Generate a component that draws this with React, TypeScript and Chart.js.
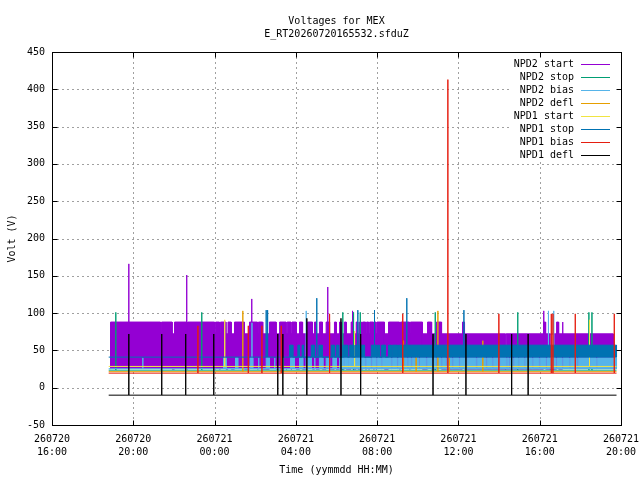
import React, { useEffect, useRef } from "react";
import { Chart, registerables } from "chart.js";

Chart.register(...registerables);

// time axis: hours counted from 260720 00:00
const xTickHours = [16, 20, 24, 28, 32, 36, 40, 44];
const xTickLabels = [
  ["260720", "16:00"],
  ["260720", "20:00"],
  ["260721", "00:00"],
  ["260721", "04:00"],
  ["260721", "08:00"],
  ["260721", "12:00"],
  ["260721", "16:00"],
  ["260721", "20:00"],
];
const yTickValues = [-50, 0, 50, 100, 150, 200, 250, 300, 350, 400, 450];

const dataFrom = 18.79;
const dataTo = 43.78;

const seriesNames = ["NPD2 start", "NPD2 stop", "NPD2 bias", "NPD2 defl", "NPD1 start", "NPD1 stop", "NPD1 bias", "NPD1 defl"];
const seriesColors = ["#9400d3", "#009e73", "#56b4e9", "#e69f00", "#f0e442", "#0072b2", "#e51e10", "#000000"];

// resting level of every channel (V), same order as the names
const restLevels = [25, 23.5, 25.5, 21.5, 28.5, 41, 19.5, -10];

// NPD2 start toggles between rest and 72 V / 88 V
const npd2StartMid = [[18.88, 38.3], [38.35, 40.5], [40.72, 43.63]];
const npd2StartHigh = [
  [18.88, 21.34], [21.39, 21.91], [22.03, 22.64], [22.67, 24.0], [24.05, 24.24], [24.29, 24.56],
  [24.66, 24.82], [24.98, 25.47], [25.72, 26.11], [26.16, 26.37], [26.7, 27.03], [27.2, 27.52],
  [27.57, 27.76], [27.81, 28.02], [28.18, 28.33], [28.57, 28.82], [28.92, 29.0], [29.16, 29.31],
  [29.49, 29.66], [29.9, 29.99], [30.15, 30.23], [30.39, 30.48], [30.72, 30.8], [30.97, 31.05],
  [31.13, 31.23], [31.28, 31.43], [31.48, 31.58], [31.63, 31.82], [31.87, 31.94], [31.99, 32.36],
  [32.56, 33.1], [33.15, 33.59], [33.64, 34.23], [34.48, 34.68], [34.92, 35.17], [36.2, 36.3],
  [40.19, 40.29], [40.83, 40.93], [41.12, 41.14],
];
const npd2StartSpikes = [[19.78, 166], [22.63, 151], [25.83, 119], [29.57, 135], [30.79, 103], [40.2, 103]];

const npd2StopSpikes = [[19.14, 101], [23.37, 101], [30.31, 101], [30.84, 101], [31.17, 101], [34.86, 101], [38.92, 101], [42.42, 101], [42.57, 101]];

// NPD2 bias bursts up to 40 V
const npd2BiasBursts = [
  [24.44, 24.57], [25.03, 25.14], [25.75, 25.88], [26.16, 26.18], [26.54, 26.7], [26.95, 26.97],
  [27.36, 27.38], [27.74, 27.93], [28.18, 28.34], [28.59, 28.76], [28.92, 28.94], [29.16, 29.33],
  [29.49, 29.66], [29.82, 29.99], [30.15, 30.33], [30.38, 30.54], [30.58, 30.75],
];
const npd2BiasSteadyFrom = 30.79;
const npd2BiasDropouts = [
  31.43, 31.72, 31.97, 32.22, 32.71, 33.0, 33.3, 33.5, 33.69, 33.89, 34.08, 34.43, 34.72, 34.92,
  35.17, 35.41, 35.71, 36.05, 36.4, 36.89, 37.38, 37.68, 38.02, 38.37, 38.51, 38.71, 38.96, 39.26,
  39.65, 39.99, 40.33, 40.58, 40.82, 41.12, 41.47, 41.86, 42.45, 42.8,
];
const npd2BiasSpikes = [[20.47, 40], [25.84, 87], [28.51, 103], [40.43, 103], [40.69, 103]];

const npd2DeflSpikes = [[25.39, 103], [33.3, 63], [33.92, 41], [34.99, 103], [35.56, 40], [37.2, 63]];

const npd1StartSpikes = [[24.5, 91], [30.89, 76], [42.45, 91]];

// NPD1 stop bursts up to 57 V
const npd1StopBursts = [
  [27.69, 27.85], [28.1, 28.18], [28.31, 28.38], [28.76, 28.92], [29.13, 29.3], [29.74, 29.9],
  [29.99, 30.11], [30.31, 30.55], [30.65, 30.85], [30.92, 31.38], [31.71, 31.97], [32.02, 32.12],
  [32.22, 32.41], [32.56, 32.7], [32.75, 33.0], [33.05, 33.22], [33.28, 43.78],
];
const npd1StopSpikes = [[26.54, 104], [26.61, 104], [29.03, 120], [31.05, 104], [31.87, 104], [33.46, 120], [36.27, 104]];

const npd1BiasSpikes = [[23.18, 83], [25.66, 83], [26.33, 83], [27.28, 83], [29.66, 99], [33.26, 99], [35.48, 413], [37.99, 99], [40.57, 99], [40.65, 99], [41.75, 99], [43.67, 99]];

const npd1DeflSpikes = [[19.78, 72], [21.4, 72], [22.58, 72], [23.96, 72], [27.11, 72], [27.36, 72], [28.54, 93], [30.22, 93], [31.19, 72], [34.75, 72], [36.37, 72], [38.62, 72], [39.43, 72]];

const FONT = '"DejaVu Sans Mono", "Liberation Mono", monospace';

type Pt = { x: number; y: number };

// line along the rest level that jumps up to each spike and back
const withSpikes = (rest: number, from: number, to: number, spikes: number[][]): Pt[] => [
  { x: from, y: rest },
  ...spikes.flatMap(([t, v]) => [{ x: t, y: rest }, { x: t, y: v }, { x: t, y: rest }]),
  { x: to, y: rest },
];

// square pulses between two levels
const pulses = (low: number, high: number, spans: number[][]): Pt[] =>
  spans.flatMap(([a, b]) => [{ x: a, y: low }, { x: a, y: high }, { x: b, y: high }, { x: b, y: low }]);

const spansBetween = (from: number, to: number, drops: number[], gap: number) => {
  const out: number[][] = [];
  let a = from;
  drops.forEach((d) => {
    out.push([a, d - gap / 2]);
    a = d + gap / 2;
  });
  out.push([a, to]);
  return out;
};

const lineSet = (i: number, data: Pt[]) => ({
  data,
  borderColor: seriesColors[i],
  borderWidth: 1,
  pointRadius: 0,
  fill: false,
});

const bandSet = (i: number, low: number, data: Pt[]) => ({
  data,
  borderColor: seriesColors[i],
  backgroundColor: seriesColors[i],
  borderWidth: 1,
  pointRadius: 0,
  fill: { value: low },
});

const buildDatasets = () => {
  const stack = [
    bandSet(0, restLevels[0], pulses(restLevels[0], 72, npd2StartMid)),
    bandSet(0, restLevels[0], pulses(restLevels[0], 88, npd2StartHigh)),
    lineSet(0, withSpikes(72, 18.88, 43.63, npd2StartSpikes)),
    lineSet(1, withSpikes(restLevels[1], dataFrom, dataTo, npd2StopSpikes)),
    bandSet(2, restLevels[2], pulses(restLevels[2], 40, npd2BiasBursts)),
    bandSet(2, restLevels[2], pulses(restLevels[2], 40, spansBetween(npd2BiasSteadyFrom, dataTo, npd2BiasDropouts, 0.06))),
    lineSet(2, withSpikes(restLevels[2], dataFrom, dataTo, npd2BiasSpikes)),
    lineSet(3, withSpikes(restLevels[3], dataFrom, dataTo, npd2DeflSpikes)),
    lineSet(4, withSpikes(restLevels[4], dataFrom, dataTo, npd1StartSpikes)),
    bandSet(5, restLevels[5], pulses(restLevels[5], 57, npd1StopBursts)),
    lineSet(5, withSpikes(restLevels[5], dataFrom, dataTo, npd1StopSpikes)),
    lineSet(6, withSpikes(restLevels[6], dataFrom, dataTo, npd1BiasSpikes)),
    lineSet(7, withSpikes(restLevels[7], dataFrom, dataTo, npd1DeflSpikes)),
  ];
  // first in the list is painted first (lowest)
  return stack.map((d, i) => ({ ...d, order: stack.length - i }));
};

// grid, frame, key and titles in gnuplot style
const gnuplotFrame = {
  id: "gnuplotFrame",
  beforeDatasetsDraw(chart: Chart) {
    const { ctx, chartArea: a, scales } = chart;
    ctx.save();
    ctx.strokeStyle = "#a0a0a0";
    ctx.lineWidth = 1;
    ctx.setLineDash([2, 3]);
    yTickValues.forEach((v) => {
      const y = Math.round(scales.y.getPixelForValue(v)) + 0.5;
      ctx.beginPath();
      ctx.moveTo(a.left, y);
      ctx.lineTo(a.right, y);
      ctx.stroke();
    });
    xTickHours.forEach((h) => {
      const x = Math.round(scales.x.getPixelForValue(h)) + 0.5;
      ctx.beginPath();
      ctx.moveTo(x, a.top);
      ctx.lineTo(x, a.bottom);
      ctx.stroke();
    });
    ctx.restore();
  },
  afterDatasetsDraw(chart: Chart) {
    const { ctx, chartArea: a, scales } = chart;
    ctx.save();
    ctx.font = `10px ${FONT}`;

    // key
    ctx.fillStyle = "#fff";
    ctx.fillRect(512, 56, a.right - 512, 106);
    ctx.textAlign = "right";
    ctx.textBaseline = "middle";
    seriesNames.forEach((name, i) => {
      const y = 64 + i * 13;
      ctx.fillStyle = "#000";
      ctx.fillText(name, 574, y);
      ctx.strokeStyle = seriesColors[i];
      ctx.lineWidth = 1;
      ctx.beginPath();
      ctx.moveTo(581, y + 0.5);
      ctx.lineTo(610, y + 0.5);
      ctx.stroke();
    });

    // border and inward ticks
    const l = Math.round(a.left) + 0.5;
    const r = Math.round(a.right) + 0.5;
    const t = Math.round(a.top) + 0.5;
    const b = Math.round(a.bottom) + 0.5;
    ctx.strokeStyle = "#000";
    ctx.lineWidth = 1;
    ctx.strokeRect(l, t, r - l, b - t);
    ctx.beginPath();
    yTickValues.forEach((v) => {
      const y = Math.round(scales.y.getPixelForValue(v)) + 0.5;
      ctx.moveTo(l, y);
      ctx.lineTo(l + 5, y);
      ctx.moveTo(r, y);
      ctx.lineTo(r - 5, y);
    });
    xTickHours.forEach((h) => {
      const x = Math.round(scales.x.getPixelForValue(h)) + 0.5;
      ctx.moveTo(x, b);
      ctx.lineTo(x, b - 5);
      ctx.moveTo(x, t);
      ctx.lineTo(x, t + 5);
    });
    ctx.stroke();

    // titles
    const cx = (a.left + a.right) / 2;
    ctx.fillStyle = "#000";
    ctx.textAlign = "center";
    ctx.fillText("Voltages for MEX", cx, 21.5);
    ctx.fillText("E_RT20260720165532.sfduZ", cx, 34.5);
    ctx.fillText("Time (yymmdd HH:MM)", cx, 470);
    ctx.translate(12, (a.top + a.bottom) / 2);
    ctx.rotate(-Math.PI / 2);
    ctx.fillText("Volt (V)", 0, 0);
    ctx.restore();
  },
};

const VoltageChart = () => {
  const canvasRef = useRef<HTMLCanvasElement | null>(null);

  useEffect(() => {
    if (!canvasRef.current) return;
    const tickFont = { family: FONT, size: 10, lineHeight: 1.3 };
    const chart = new Chart(canvasRef.current, {
      type: "line",
      data: { datasets: buildDatasets() as any },
      options: {
        animation: false,
        responsive: false,
        events: [],
        layout: { padding: { top: 52, right: 19, left: 0, bottom: 0 } },
        plugins: { legend: { display: false }, tooltip: { enabled: false } },
        scales: {
          x: {
            type: "linear",
            min: xTickHours[0],
            max: xTickHours[xTickHours.length - 1],
            grid: { display: false, drawTicks: false },
            border: { display: false },
            ticks: {
              font: tickFont,
              color: "#000",
              padding: 8,
              maxRotation: 0,
              autoSkip: false,
              callback: (v: any) => xTickLabels[xTickHours.indexOf(Number(v))] ?? "",
            },
            afterBuildTicks: (s: any) => {
              s.ticks = xTickHours.map((value) => ({ value }));
            },
            afterFit: (s: any) => {
              s.height = 55;
              s.paddingLeft = 0;
              s.paddingRight = 0;
            },
          },
          y: {
            type: "linear",
            min: yTickValues[0],
            max: yTickValues[yTickValues.length - 1],
            grid: { display: false, drawTicks: false },
            border: { display: false },
            ticks: { font: tickFont, color: "#000", padding: 7, callback: (v: any) => String(v) },
            afterBuildTicks: (s: any) => {
              s.ticks = yTickValues.map((value) => ({ value }));
            },
            afterFit: (s: any) => {
              s.width = 52;
              s.paddingTop = 0;
              s.paddingBottom = 0;
            },
          },
        },
      },
      plugins: [gnuplotFrame as any],
    });
    return () => chart.destroy();
  }, []);

  return <canvas ref={canvasRef} width={640} height={480} style={{ display: "block" }} />;
};

export default function App() {
  return (
    <div style={{ position: "fixed", left: 0, top: 0, width: 640, height: 480, background: "#fff" }}>
      <VoltageChart />
    </div>
  );
}
